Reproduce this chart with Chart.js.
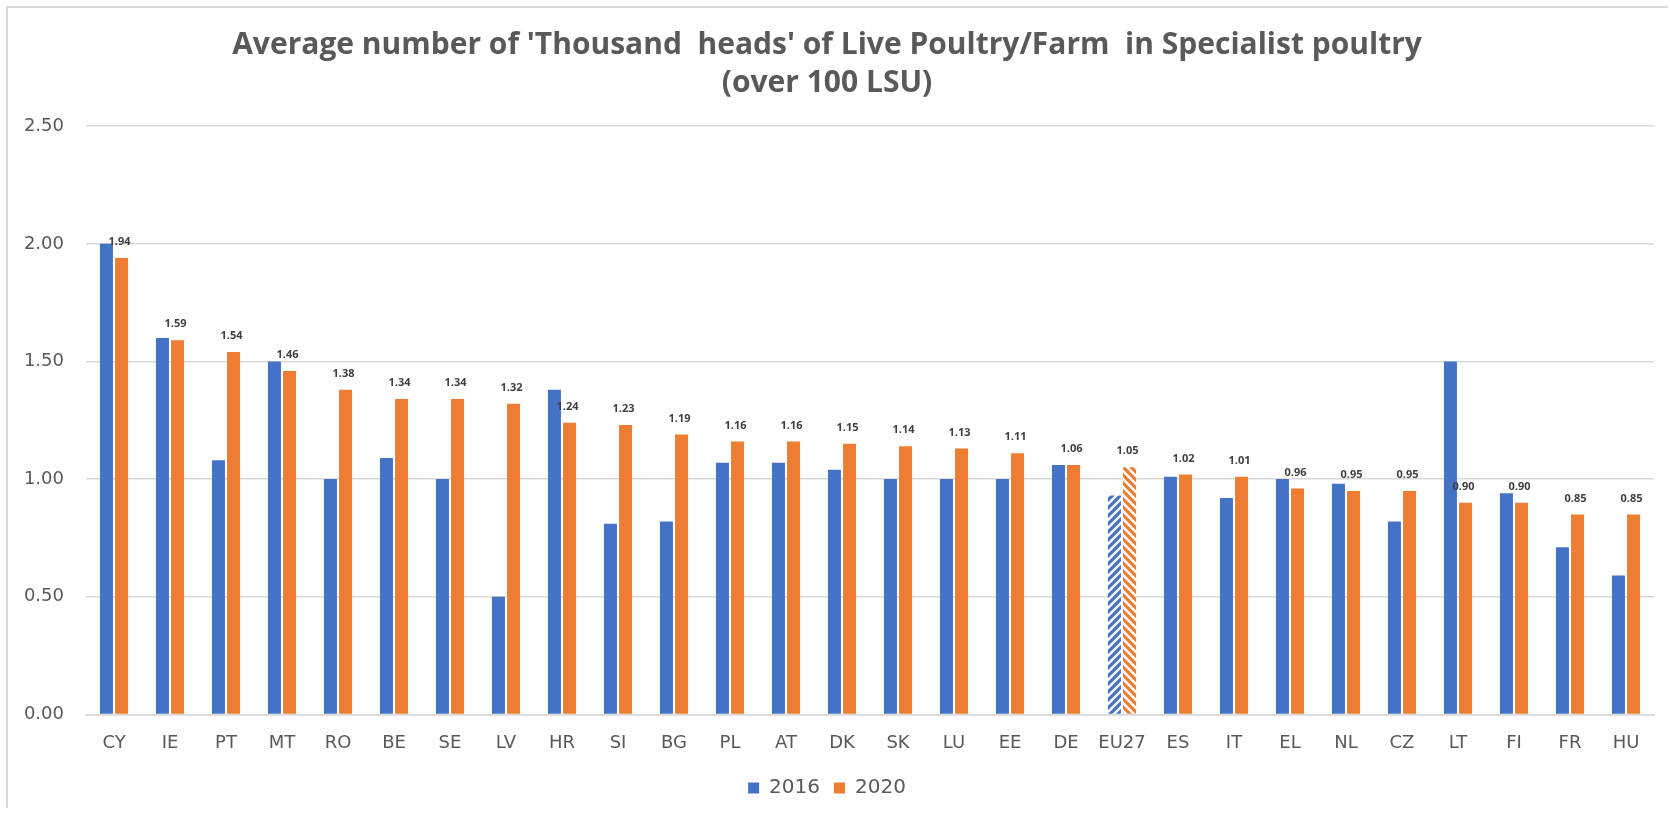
<!DOCTYPE html>
<html>
<head>
<meta charset="utf-8">
<script src="https://cdn.jsdelivr.net/npm/chart.js@4/dist/chart.umd.min.js"></script>
<style>
  html, body { margin: 0; padding: 0; background: #fff; }
  #wrap { position: relative; width: 1670px; height: 813px; }
  #frame { position: absolute; left: 6px; top: 6px; width: 1662px; height: 802px; border: 2px solid #d9d9d9; border-right: none; border-bottom: none; box-sizing: border-box; pointer-events: none; }
  canvas { position: absolute; left: 0; top: 0; }
</style>
</head>
<body>
<div id="wrap">
  <canvas id="chart" width="1670" height="813"></canvas>
  <div id="frame"></div>
</div>
<script>
// values
const countries = ['CY','IE','PT','MT','RO','BE','SE','LV','HR','SI','BG','PL','AT','DK','SK','LU','EE','DE','EU27','ES','IT','EL','NL','CZ','LT','FI','FR','HU'];
const values2016 = [2.00,1.60,1.08,1.50,1.00,1.09,1.00,0.50,1.38,0.81,0.82,1.07,1.07,1.04,1.00,1.00,1.00,1.06,0.93,1.01,0.92,1.00,0.98,0.82,1.50,0.94,0.71,0.59];
const values2020 = [1.94,1.59,1.54,1.46,1.38,1.34,1.34,1.32,1.24,1.23,1.19,1.16,1.16,1.15,1.14,1.13,1.11,1.06,1.05,1.02,1.01,0.96,0.95,0.95,0.90,0.90,0.85,0.85];
const yTicks = [0, 0.5, 1, 1.5, 2, 2.5];

const BLUE = '#4472C4';
const ORANGE = '#ED7D31';
const GREY = '#595959';

// striped fill for the EU27 bars
function stripes(color, up) {
  const s = 8;
  const c = document.createElement('canvas');
  c.width = s; c.height = s;
  const g = c.getContext('2d');
  g.fillStyle = '#fff';
  g.fillRect(0, 0, s, s);
  g.strokeStyle = color;
  g.lineWidth = 3.2;
  g.beginPath();
  if (up) {
    g.moveTo(-2, 2); g.lineTo(2, -2);
    g.moveTo(0, s); g.lineTo(s, 0);
    g.moveTo(s - 2, s + 2); g.lineTo(s + 2, s - 2);
  } else {
    g.moveTo(-2, s - 2); g.lineTo(2, s + 2);
    g.moveTo(0, 0); g.lineTo(s, s);
    g.moveTo(s - 2, -2); g.lineTo(s + 2, 2);
  }
  g.stroke();
  return g.createPattern(c, 'repeat');
}

const blueFill = countries.map(c => c === 'EU27' ? stripes(BLUE, true) : BLUE);
const orangeFill = countries.map(c => c === 'EU27' ? stripes(ORANGE, false) : ORANGE);

// value labels above the 2020 bars
const valueLabels = {
  id: 'valueLabels',
  afterDatasetsDraw(chart) {
    const ctx = chart.ctx;
    const meta = chart.getDatasetMeta(1);
    ctx.save();
    ctx.font = 'bold 11px "Open Sans"';
    ctx.fillStyle = '#404040';
    ctx.textAlign = 'center';
    ctx.textBaseline = 'middle';
    meta.data.forEach((bar, i) => {
      ctx.fillText(values2020[i].toFixed(2), bar.x - 2, bar.y - 16);
    });
    ctx.restore();
  }
};

new Chart(document.getElementById('chart'), {
  type: 'bar',
  data: {
    labels: countries,
    datasets: [
      { label: '2016', data: values2016, backgroundColor: blueFill, borderWidth: 0 },
      { label: '2020', data: values2020, backgroundColor: orangeFill, borderWidth: 0 }
    ]
  },
  options: {
    responsive: false,
    animation: false,
    devicePixelRatio: 1,
    categoryPercentage: 0.54,
    barPercentage: 0.86,
    layout: { padding: { top: 20, right: 16, bottom: 5, left: 0 } },
    plugins: {
      title: {
        display: true,
        text: ["Average number of 'Thousand  heads' of Live Poultry/Farm  in Specialist poultry", '(over 100 LSU)'],
        color: GREY,
        font: { family: '"Open Sans"', size: 30, weight: 'bold', lineHeight: 1.27 },
        padding: { top: 6, bottom: 24 }
      },
      legend: {
        position: 'bottom',
        labels: {
          color: GREY,
          font: { family: '"DejaVu Sans"', size: 20 },
          boxWidth: 11,
          boxHeight: 11,
          padding: 14
        }
      },
      tooltip: { enabled: false }
    },
    scales: {
      x: {
        grid: { display: false },
        border: { color: '#d9d9d9', width: 1.5 },
        ticks: { color: GREY, font: { family: '"DejaVu Sans"', size: 18 }, padding: 10 }
      },
      y: {
        min: 0,
        max: 2.5,
        afterBuildTicks(scale) { scale.ticks = yTicks.map(v => ({ value: v })); },
        afterFit(scale) { scale.width = 86; },
        grid: { color: '#d9d9d9', lineWidth: 1.5, drawTicks: false },
        border: { display: false },
        ticks: {
          color: GREY,
          font: { family: '"DejaVu Sans"', size: 18 },
          padding: 22,
          callback: v => v.toFixed(2)
        }
      }
    }
  },
  plugins: [valueLabels]
});
</script>
</body>
</html>
